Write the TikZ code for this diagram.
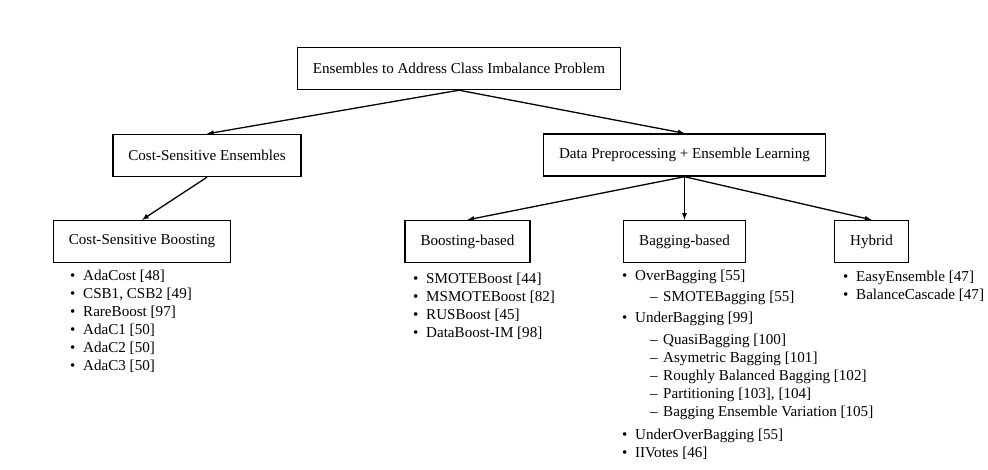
\documentclass[tikz,border=0pt]{standalone}
\usepackage{fontspec}
\setmainfont{Liberation Serif}
\newcommand{\bitem}[1]{\makebox[13pt][l]{\textbullet}#1}
\newcommand{\ditem}[1]{\hspace*{28pt}\makebox[13pt][l]{--}#1}
\begin{document}
\begin{tikzpicture}[x=1pt, y=-1pt, font=\fontsize{15.1}{18}\selectfont,
		box/.style={draw, line width=1.4pt, inner xsep=15.5pt, minimum height=42pt},
		liste/.style={anchor=north west, inner sep=0pt, align=left},
		pfeil/.style={-latex, line width=1.3pt}]
		\useasboundingbox (0,0) rectangle (988,469);
		\node[box] (root) at (459,68.5) {Ensembles to Address Class Imbalance Problem};
		\node[box] (cse) at (207,155.5) {Cost-Sensitive Ensembles};
		\node[box] (dp) at (684.5,155) {Data Preprocessing + Ensemble Learning};
		\node[box] (csb) at (142,241.5) {Cost-Sensitive Boosting};
		\node[box] (boost) at (467.5,241.5) {Boosting-based};
		\node[box] (bag) at (684.5,241.5) {Bagging-based};
		\node[box] (hyb) at (871.5,241.5) {Hybrid};
		\draw [pfeil] (root.south) -- (cse.north);
		\draw [pfeil] (root.south) -- (dp.north);
		\draw [pfeil] (cse.south) -- (csb.north);
		\draw [pfeil] (dp.south) -- (boost.north);
		\draw [pfeil] (dp.south) -- (bag.north);
		\draw [pfeil] (dp.south) -- (hyb.north);
		\node[liste] (csbliste) at (70,270) {\bitem{AdaCost [48]}\\ \bitem{CSB1, CSB2 [49]}\\ \bitem{RareBoost [97]}\\ \bitem{AdaC1 [50]}\\ \bitem{AdaC2 [50]}\\ \bitem{AdaC3 [50]}};
		\node[liste] (boostliste) at (413,273) {\bitem{SMOTEBoost [44]}\\ \bitem{MSMOTEBoost [82]}\\ \bitem{RUSBoost [45]}\\ \bitem{DataBoost-IM [98]}};
		\node[liste] (bagliste) at (622,270) {\bitem{OverBagging [55]}\\[3pt] \ditem{SMOTEBagging [55]}\\[3pt] \bitem{UnderBagging [99]}\\[4pt] \ditem{QuasiBagging [100]}\\ \ditem{Asymetric Bagging [101]}\\ \ditem{Roughly Balanced Bagging [102]}\\ \ditem{Partitioning [103], [104]}\\ \ditem{Bagging Ensemble Variation [105]}\\[5pt] \bitem{UnderOverBagging [55]}\\ \bitem{IIVotes [46]}};
		\node[liste] (hybliste) at (843,271) {\bitem{EasyEnsemble [47]}\\ \bitem{BalanceCascade [47]}};
	\end{tikzpicture}
\end{document}
